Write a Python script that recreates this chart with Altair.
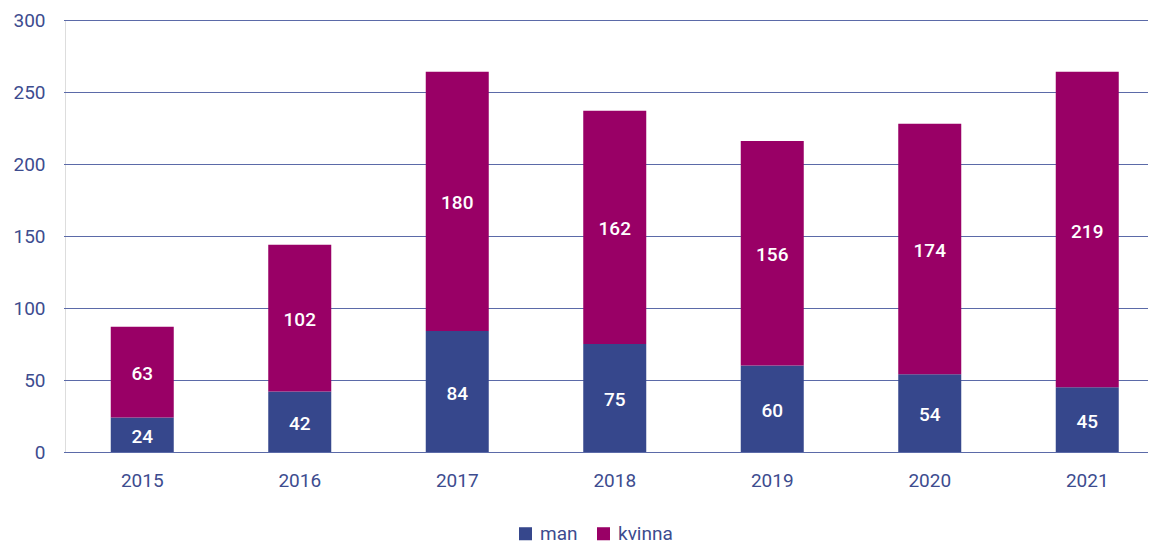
import altair as alt
import pandas as pd

years = ["2015", "2016", "2017", "2018", "2019", "2020", "2021"]
man = [24, 42, 84, 75, 60, 54, 45]
kvinna = [63, 102, 180, 162, 156, 174, 219]
series = ["man", "kvinna"]
colors = ["#36478c", "#990066"]

rows = []
for i, y in enumerate(years):
    rows.append({"year": y, "kon": "man", "order": 0, "value": man[i]})
    rows.append({"year": y, "kon": "kvinna", "order": 1, "value": kvinna[i]})
df = pd.DataFrame(rows)

FONT = "Roboto"
TXT = "#3d4c8f"

base = alt.Chart(df).transform_stack(
    stack="value", groupby=["year"], as_=["y0", "y1"],
    sort=[alt.SortField("order", order="ascending")]
).transform_calculate(mid="(datum.y0 + datum.y1) / 2")

xscale = alt.Scale(range=[-1.5, 1101], paddingInner=0, paddingOuter=0)
x = alt.X("year:N", title=None, sort=years, scale=xscale,
          axis=alt.Axis(labelAngle=0, domain=False, ticks=False, grid=False, labelFontSize=19,
                        labelColor=TXT, labelFont=FONT, labelPadding=19))

bars = base.mark_bar(size=63).encode(
    x=x,
    y=alt.Y("y0:Q", title=None, scale=alt.Scale(domain=[0, 300]),
            axis=alt.Axis(values=[0, 50, 100, 150, 200, 250, 300], domain=False, ticks=False,
                          labelFontSize=19, labelColor=TXT, labelFont=FONT, labelPadding=20,
                          gridColor="#5b6aa8", gridWidth=1.2)),
    y2="y1:Q",
    color=alt.Color("kon:N", sort=series, scale=alt.Scale(domain=series, range=colors),
                    legend=alt.Legend(title=None, orient="none", legendX=451, legendY=504,
                                      direction="horizontal", symbolType="square",
                                      symbolSize=170, symbolStrokeWidth=0,
                                      labelFontSize=19, labelColor=TXT, labelFont=FONT,
                                      columnPadding=16, labelOffset=5)),
)

labels = base.mark_text(color="white", fontSize=19, font=FONT, fontWeight=500, dy=2).encode(
    x=alt.X("year:N", sort=years, scale=xscale),
    y=alt.Y("mid:Q"),
    text=alt.Text("value:Q"),
)

chart = alt.layer(bars, labels).properties(
    width=1083, height=432,
    autosize=alt.AutoSizeParams(type="none"),
    padding={"left": 57, "top": 12, "right": 0, "bottom": 92},
).configure_view(strokeWidth=0, stroke="transparent").configure_axis(domain=False).configure(font=FONT)

chart.save("out.html", embed_options={"renderer": "svg", "actions": False})
